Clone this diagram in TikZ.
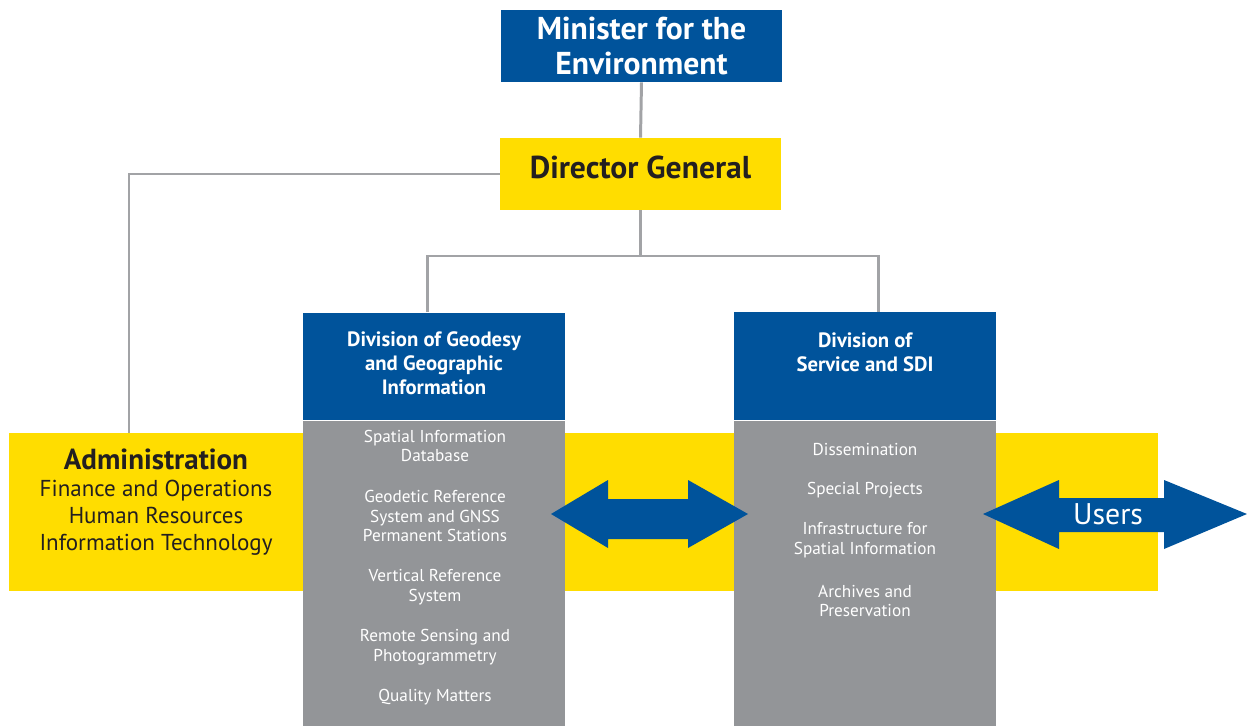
\documentclass[tikz,border=0pt]{standalone}
\usepackage{fontspec}
\setmainfont{PT Sans}
\definecolor{envblue}{HTML}{00539B}
\definecolor{envyellow}{HTML}{FFDD00}
\definecolor{envgray}{HTML}{939598}
\definecolor{linegray}{HTML}{A2A3A6}
\definecolor{darktext}{HTML}{231F20}
\begin{document}
\begin{tikzpicture}[x=0.02cm,y=-0.02cm,
        topbox/.style={inner sep=0pt,minimum width=5.62cm,minimum height=1.44cm,align=center,font=\bfseries\fontsize{18}{20.4}\selectfont},
        headbox/.style={inner sep=0pt,fill=envblue,minimum width=5.24cm,minimum height=2.16cm},
        bodybox/.style={inner sep=0pt,fill=envgray,minimum width=5.24cm,minimum height=6.12cm},
        headtext/.style={inner sep=0pt,align=center,text=white,font=\bfseries\fontsize{11.8}{13.6}\selectfont},
        item/.style={inner sep=0pt,align=center,text=white,font=\fontsize{9.8}{11.3}\selectfont},
        link/.style={linegray,line width=1.7pt}]
        \useasboundingbox (0,0) rectangle (1247,726);

        %band
        \fill[envyellow] (9,433) rectangle (1158,591);

        %top
        \node[topbox,fill=envblue,text=white] (minister) at (641.5,46) {Minister for the\\Environment};
        \node[topbox,fill=envyellow,text=darktext,text depth=8pt] (director) at (640.5,174) {Director General};
        \draw[link] (minister.south) -- (director.north);

        %divisions
        \node[headbox] (geohead) at (434,366.5) {};
        \node[bodybox,anchor=north] (geobody) at (geohead.south) {};
        \node[headtext] (geotitle) at (434,363) {Division of Geodesy\\and Geographic\\Information};
        \node[headbox] (servhead) at (865,366) {};
        \node[bodybox,anchor=north] (servbody) at (servhead.south) {};
        \node[headtext] (servtitle) at (865,352) {Division of\\Service and SDI};

        \coordinate (split) at (640.5,256);
        \draw[link] (director.south) -- (split);
        \draw[link] ([xshift=-0.14cm]geohead.north) |- (split) -| ([xshift=0.26cm]servhead.north);

        %administration
        \coordinate (admintop) at (129,433);
        \draw[link] (director.west) -| (admintop);
        \node[inner sep=0pt,align=center,text=darktext,font=\fontsize{13.1}{15.3}\selectfont] (admin) at (156,502)
            {{\bfseries\fontsize{16.5}{15.3}\selectfont Administration}\\Finance and Operations\\Human Resources\\Information Technology};

        %items
        \node[item] (geoa) at (435,446) {Spatial Information\\Database};
        \node[item] (geob) at (435,516) {Geodetic Reference\\System and GNSS\\Permanent Stations};
        \node[item] (geoc) at (435,587) {Vertical Reference\\System};
        \node[item] (geod) at (435,647) {Remote Sensing and\\Photogrammetry};
        \node[item] (geoe) at (435,697) {Quality Matters};
        \node[item] (serva) at (865,450) {Dissemination};
        \node[item] (servb) at (865,490) {Special Projects};
        \node[item] (servc) at (865,540.5) {Infrastructure for\\Spatial Information};
        \node[item] (servd) at (865,601) {Archives and\\Preservation};

        %arrows
        \fill[envblue] (551,514) -- (608,480) -- (608,499) -- (688,499) -- (688,480) -- (748,514)
            -- (688,548) -- (688,539) -- (608,539) -- (608,548) -- cycle;
        \fill[envblue] (983,514) -- (1059,480) -- (1059,498) -- (1164,498) -- (1164,480) -- (1247,514)
            -- (1164,549) -- (1164,532) -- (1059,532) -- (1059,549) -- cycle;
        \node[inner sep=0pt,text=white,font=\fontsize{17}{19}\selectfont] (users) at (1108,514) {Users};
    \end{tikzpicture}
\end{document}
